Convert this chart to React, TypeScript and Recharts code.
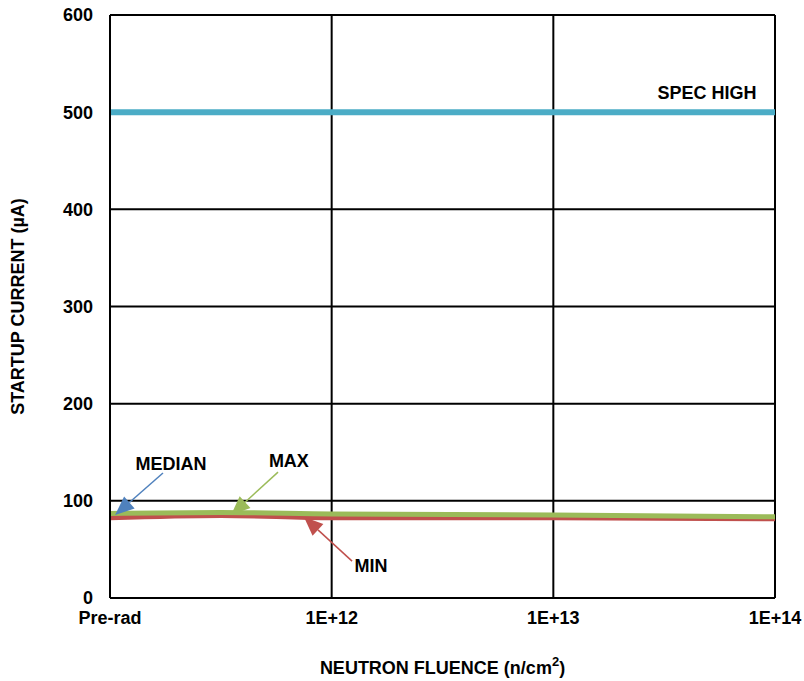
import React from "react";
import {
  LineChart,
  Line,
  XAxis,
  YAxis,
  CartesianGrid,
  ReferenceLine,
  Label,
} from "recharts";

// x positions: 0 = Pre-rad, 1 = 1E+12, 2 = 1E+13, 3 = 1E+14
const xPositions = [0, 0.5, 1, 2, 3];
const medianVals = [85, 86.5, 85, 84, 83];
const maxVals = [87, 88, 86.5, 85.5, 83.5];
const minVals = [82.5, 85, 82.5, 82.5, 81.5];
const specHigh = 500;
const xTicks = [0, 1, 2, 3];
const xTickLabels = ["Pre-rad", "1E+12", "1E+13", "1E+14"];
const yTicks = [0, 100, 200, 300, 400, 500, 600];

const data = xPositions.map((x, i) => ({
  x,
  median: medianVals[i],
  max: maxVals[i],
  min: minVals[i],
}));

const annotations = [
  { label: "MEDIAN", color: "#4F81BD", from: [0.239, 128.6], to: [0.023, 85.4], text: [0.275, 137.9] },
  { label: "MAX", color: "#9BBB59", from: [0.758, 129.6], to: [0.546, 85.4], text: [0.807, 141] },
  { label: "MIN", color: "#C0504D", from: [1.092, 38], to: [0.875, 83.3], text: [1.177, 33] },
];

const FONT = "'Liberation Sans', Arial, sans-serif";
const FS = 18;

const arrowShape = (color: string) => (props: any) => {
  const { x1, y1, x2, y2 } = props;
  if ([x1, y1, x2, y2].some((v) => v == null || isNaN(v))) return null;
  const dx = x2 - x1;
  const dy = y2 - y1;
  const len = Math.sqrt(dx * dx + dy * dy);
  const ux = dx / len;
  const uy = dy / len;
  const headLen = 19;
  const headW = 8;
  const bx = x2 - ux * headLen;
  const by = y2 - uy * headLen;
  const px = -uy;
  const py = ux;
  return (
    <g>
      <line x1={x1} y1={y1} x2={bx} y2={by} stroke={color} strokeWidth={1.5} />
      <polygon
        points={`${x2},${y2} ${bx + px * headW},${by + py * headW} ${bx - px * headW},${by - py * headW}`}
        fill={color}
      />
    </g>
  );
};

const textShape = (label: string) => (props: any) => {
  const { x1, y1 } = props;
  if (x1 == null || isNaN(x1)) return null;
  return (
    <text
      x={x1}
      y={y1}
      textAnchor="middle"
      dominantBaseline="central"
      fontFamily={FONT}
      fontWeight="bold"
      fontSize={FS}
      fill="#000"
    >
      {label}
    </text>
  );
};

const XTitle = (props: any) => {
  const vb = props.viewBox || {};
  const cx = vb.x + vb.width / 2;
  return (
    <text
      x={cx}
      y={668}
      textAnchor="middle"
      dominantBaseline="central"
      fontFamily={FONT}
      fontWeight="bold"
      fontSize={FS}
      fill="#000"
    >
      NEUTRON FLUENCE (n/cm
      <tspan dy={-7} fontSize={13}>2</tspan>
      <tspan dy={7}>)</tspan>
    </text>
  );
};

export default function App() {
  return (
    <div style={{ position: "absolute", left: 0, top: 0, width: 804, height: 681, background: "#fff" }}>
      <LineChart
        width={804}
        height={681}
        data={data}
        margin={{ top: 15, right: 29, bottom: 23, left: 50 }}
      >
        <CartesianGrid stroke="#000" strokeWidth={2} horizontalValues={yTicks} verticalValues={xTicks} />
        <XAxis
          dataKey="x"
          type="number"
          domain={[0, 3]}
          ticks={xTicks}
          tickFormatter={(v: number) => xTickLabels[v]}
          axisLine={{ stroke: "#000", strokeWidth: 2 }}
          tickLine={false}
          tickSize={0}
          tickMargin={13}
          height={60}
          tick={{ fill: "#000", fontFamily: FONT, fontWeight: "bold", fontSize: FS }}
        >
          <Label content={<XTitle />} />
        </XAxis>
        <YAxis
          type="number"
          domain={[0, 600]}
          ticks={yTicks}
          axisLine={{ stroke: "#000", strokeWidth: 2 }}
          tickLine={false}
          tickSize={0}
          tickMargin={17}
          width={60}
          tick={{ fill: "#000", fontFamily: FONT, fontWeight: "bold", fontSize: FS }}
        >
          <Label
            value="STARTUP CURRENT (µA)"
            angle={-90}
            position="insideLeft"
            offset={-32}
            style={{ textAnchor: "middle", fill: "#000", fontFamily: FONT, fontWeight: "bold", fontSize: FS }}
          />
        </YAxis>
        <ReferenceLine y={specHigh} stroke="#4BACC6" strokeWidth={6} />
        <ReferenceLine
          segment={[{ x: 2.693, y: 519.5 }, { x: 2.693, y: 519.5 }]}
          shape={textShape("SPEC HIGH")}
        />
        <Line type="monotone" dataKey="median" stroke="#4F81BD" strokeWidth={4} dot={false} isAnimationActive={false} />
        <Line type="monotone" dataKey="min" stroke="#C0504D" strokeWidth={5} dot={false} isAnimationActive={false} />
        <Line type="monotone" dataKey="max" stroke="#9BBB59" strokeWidth={5} dot={false} isAnimationActive={false} />
        {annotations.map((a) => (
          <ReferenceLine
            key={a.label + "-arrow"}
            segment={[{ x: a.from[0], y: a.from[1] }, { x: a.to[0], y: a.to[1] }]}
            shape={arrowShape(a.color)}
          />
        ))}
        {annotations.map((a) => (
          <ReferenceLine
            key={a.label + "-text"}
            segment={[{ x: a.text[0], y: a.text[1] }, { x: a.text[0], y: a.text[1] }]}
            shape={textShape(a.label)}
          />
        ))}
      </LineChart>
    </div>
  );
}
